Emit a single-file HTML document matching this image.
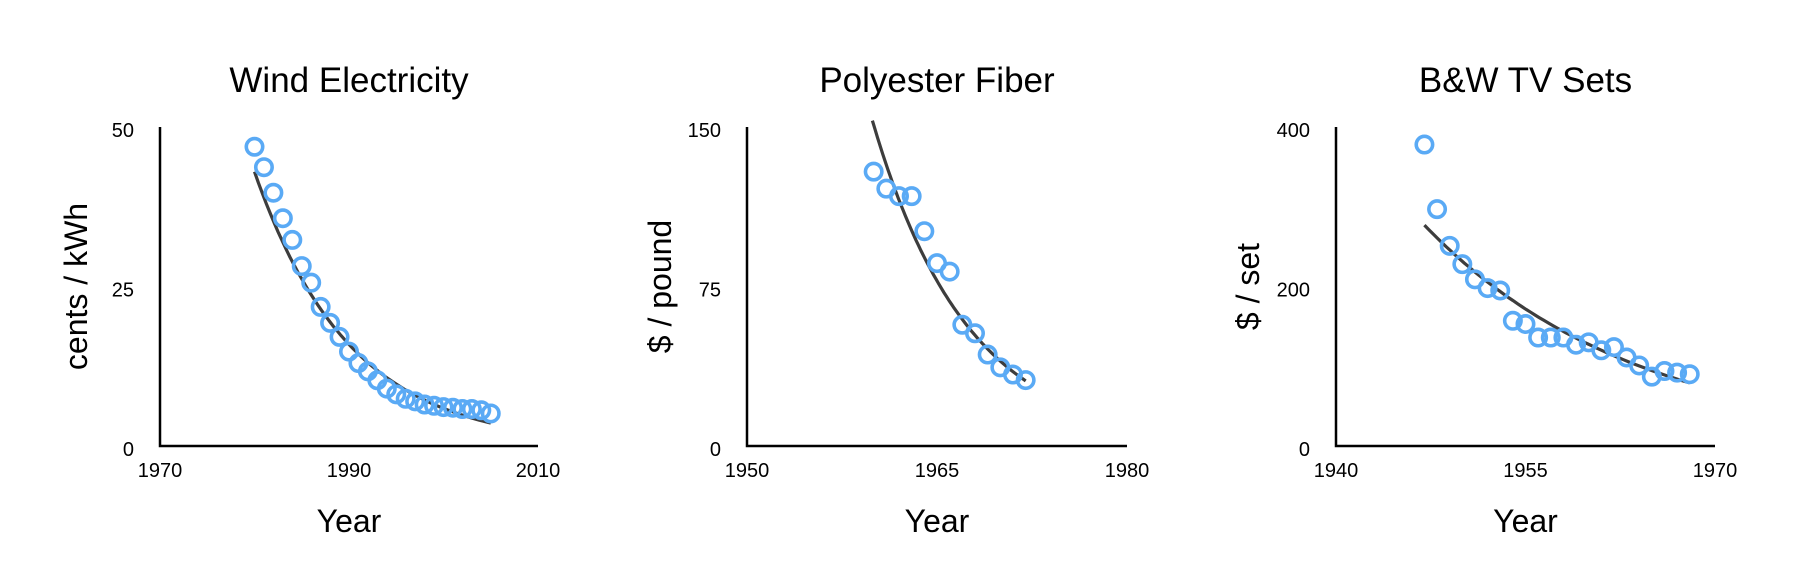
<!DOCTYPE html>
<html><head><meta charset="utf-8"><style>
html,body{margin:0;padding:0;background:#fff;}
svg{display:block;font-family:"Liberation Sans",Arial,sans-serif;}
</style></head>
<body>
<svg id="chart" width="1794" height="580" viewBox="0 0 1794 580" xmlns="http://www.w3.org/2000/svg"></svg>
<script>
// Wind Electricity
const windYears = [1980,1981,1982,1983,1984,1985,1986,1987,1988,1989,1990,1991,1992,1993,1994,1995,1996,1997,1998,1999,2000,2001,2002,2003,2004,2005];
const windValues = [46.9,43.7,39.7,35.7,32.3,28.2,25.6,21.8,19.3,17.1,14.8,13.0,11.7,10.3,9.0,8.1,7.4,7.0,6.5,6.3,6.1,6.0,5.8,5.8,5.6,5.1];
const windFit = [1980,2005,43,0.0993];
const windXTicks = [1970,1990,2010];
const windYTicks = [0,25,50];
// Polyester Fiber
const polyYears = [1960,1961,1962,1963,1964,1965,1966,1967,1968,1969,1970,1971,1972];
const polyValues = [129,121,117.5,117.5,101,86,82,57,53,43,37,33.6,31];
const polyFit = [1959.9,1972,153,0.133];
const polyXTicks = [1950,1965,1980];
const polyYTicks = [0,75,150];
// B&W TV Sets
const tvYears = [1947,1948,1949,1950,1951,1952,1953,1954,1955,1956,1957,1958,1959,1960,1961,1962,1963,1964,1965,1966,1967,1968];
const tvValues = [378,297,251,228,209,198,195,157,153,136,136,136,127,130,120,124,111,101,87,94,92,90];
const tvFit = [1947,1968,277,0.0597];
const tvXTicks = [1940,1955,1970];
const tvYTicks = [0,200,400];

const NS = "http://www.w3.org/2000/svg";
const svg = document.getElementById('chart');
function mk(tag, attrs, parent){ const e=document.createElementNS(NS,tag); for(const k in attrs) e.setAttribute(k,attrs[k]); (parent||svg).appendChild(e); return e; }

const panels = [
 {key:'wind', title:'Wind Electricity', ytitle:'cents / kWh', x0:160, x1:538, xs:windXTicks, ys:windYTicks, years:windYears, vals:windValues, fit:windFit, ytx:76},
 {key:'polyester', title:'Polyester Fiber', ytitle:'$ / pound', x0:747, x1:1127, xs:polyXTicks, ys:polyYTicks, years:polyYears, vals:polyValues, fit:polyFit, ytx:660},
 {key:'tv', title:'B&W TV Sets', ytitle:'$ / set', x0:1336, x1:1715, xs:tvXTicks, ys:tvYTicks, years:tvYears, vals:tvValues, fit:tvFit, ytx:1248}
];
const yBot = 446, yTop = 127;

panels.forEach(p=>{
  const g = mk('g',{});
  
  
  const xmin=p.xs[0], xmax=p.xs[p.xs.length-1], ymax=p.ys[p.ys.length-1];
  const X = v => p.x0 + (v-xmin)/(xmax-xmin)*(p.x1-p.x0);
  const Y = v => yBot - v/ymax*(yBot-yTop);
  const cx = (p.x0+p.x1)/2;
  const t = mk('text',{x:cx,y:92,'text-anchor':'middle','font-size':35,fill:'#000'},g);
  t.textContent = p.title;
  
  
  const ax = mk('path',{d:`M${p.x0},${yTop} L${p.x0},${yBot} L${p.x1},${yBot}`,fill:'none',stroke:'#000','stroke-width':2.5},g);
  
  
  p.ys.forEach(v=>{
    const l = mk('text',{x:134,y:Y(v)+10,'text-anchor':'end','font-size':20,fill:'#000'},g);
    l.setAttribute('x', p.x0-26);
    l.textContent = v;
    
    
  });
  p.xs.forEach(v=>{
    const l = mk('text',{x:X(v),y:477,'text-anchor':'middle','font-size':20,fill:'#000'},g);
    l.textContent = v;
    
    
  });
  const xt = mk('text',{x:cx,y:532,'text-anchor':'middle','font-size':32,fill:'#000'},g);
  xt.textContent = 'Year';
  
  
  const ym = (yTop+yBot)/2;
  const yt = mk('text',{x:p.ytx,y:ym,'text-anchor':'middle','font-size':32,fill:'#000',transform:`rotate(-90 ${p.ytx} ${ym})`,'dominant-baseline':'central'},g);
  yt.textContent = p.ytitle;
  
  
  // fit line
  const [fa,fb,fv,fk] = p.fit;
  let d='';
  for(let i=0;i<=60;i++){ const yr=fa+(fb-fa)*i/60; const v=fv*Math.exp(-fk*(yr-fa)); d+=(i?'L':'M')+X(yr).toFixed(1)+','+Y(v).toFixed(1); }
  const fl = mk('path',{d:d,fill:'none',stroke:'#3d3d3d','stroke-width':3.2},g);
  
  
  p.years.forEach((yr,i)=>{
    const c = mk('circle',{cx:X(yr),cy:Y(p.vals[i]),r:8.2,fill:'none',stroke:'#5aaaf5','stroke-width':3.6},g);
    
    
  });
});
</script>
</body></html>
